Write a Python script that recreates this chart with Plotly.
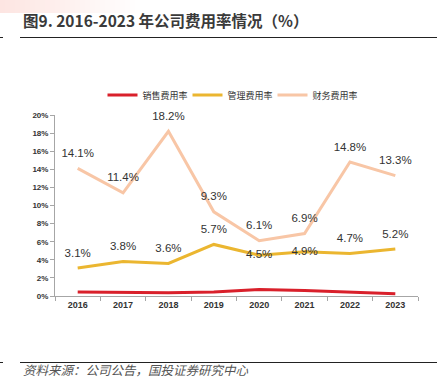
import plotly.graph_objects as go

years = ["2016", "2017", "2018", "2019", "2020", "2021", "2022", "2023"]
sales_rate = [0.44, 0.42, 0.35, 0.45, 0.72, 0.62, 0.45, 0.25]
admin_rate = [3.1, 3.8, 3.6, 5.7, 4.5, 4.9, 4.7, 5.2]
finance_rate = [14.1, 11.4, 18.2, 9.3, 6.1, 6.9, 14.8, 13.3]
admin_label_pos = ["top center", "top center", "top center", "top center",
                   "middle center", "middle center", "top center", "top center"]
y_ticks = [0, 2, 4, 6, 8, 10, 12, 14, 16, 18, 20]
y_tick_text = [f"{v}%" for v in y_ticks]

W, H = 447, 389
L, R, T, B = 55, 29, 115, 93
PW, PH = W - L - R, H - T - B

def px(x):
    return (x - L) / PW

def py(y):
    return (H - B - y) / PH

label_font = dict(family="Liberation Sans, Arial", size=11.5, color="#333333")
ghost_marker = dict(size=12, color="rgba(0,0,0,0)")

fig = go.Figure()
fig.add_trace(go.Scatter(
    x=years, y=sales_rate, mode="lines", name="销售费用率",
    line=dict(color="#D9202B", width=3)))
fig.add_trace(go.Scatter(
    x=years, y=admin_rate, mode="lines+markers+text", name="管理费用率",
    line=dict(color="#EBB630", width=3), cliponaxis=False, marker=ghost_marker,
    text=[f"{v:.1f}%" for v in admin_rate], textposition=admin_label_pos,
    textfont=label_font))
fig.add_trace(go.Scatter(
    x=years, y=finance_rate, mode="lines+markers+text", name="财务费用率",
    line=dict(color="#F8C6A6", width=3), cliponaxis=False, marker=ghost_marker,
    text=[f"{v:.1f}%" for v in finance_rate], textposition="top center",
    textfont=label_font))

shapes = []
# top-left gradient
n = 28
for i in range(n):
    x0 = i * 5
    op = 0.55 * (1 - i / n)
    shapes.append(dict(type="rect", xref="paper", yref="paper",
                       x0=px(x0), x1=px(x0 + 5), y0=py(13), y1=py(0),
                       fillcolor="#FBD0CA", opacity=op, line=dict(width=0), layer="below"))
# title underline and source line
for yy in (37.5, 362.5):
    shapes.append(dict(type="line", xref="paper", yref="paper",
                       x0=px(20), x1=px(437), y0=py(yy), y1=py(yy),
                       line=dict(color="#222222", width=1.2)))
    shapes.append(dict(type="line", xref="paper", yref="paper",
                       x0=px(0), x1=px(3), y0=py(yy), y1=py(yy),
                       line=dict(color="#222222", width=1)))

annotations = [
    dict(text="<b>图9. 2016-2023 年公司费用率情况（%）</b>", xref="paper", yref="paper",
         x=px(21), y=py(20), xanchor="left", yanchor="middle", showarrow=False,
         font=dict(family="Noto Sans CJK SC", size=15.5, color="#3a3a3a")),
    dict(text="<i>资料来源：公司公告，国投证券研究中心</i>", xref="paper", yref="paper",
         x=px(21), y=py(369), xanchor="left", yanchor="middle", showarrow=False,
         font=dict(family="Noto Sans CJK SC", size=12.5, color="#555555")),
]

fig.update_layout(
    width=W, height=H,
    margin=dict(l=L, r=R, t=T, b=B, autoexpand=False),
    paper_bgcolor="white", plot_bgcolor="white",
    showlegend=True,
    legend=dict(orientation="h", xref="container", yref="container",
                x=230 / W, y=1 - 95 / H, xanchor="center", yanchor="middle",
                font=dict(family="Noto Sans CJK SC", size=9, color="#333333"),
                itemwidth=30, entrywidth=40, entrywidthmode="pixels",
                bgcolor="rgba(0,0,0,0)"),
    xaxis=dict(type="category", showgrid=False, showline=True, linecolor="#A6A6A6",
               linewidth=1, ticks="outside", ticklen=4, tickcolor="#A6A6A6",
               tickson="boundaries", range=[-0.5, 7.5], automargin=False,
               tickfont=dict(family="Liberation Sans, Arial", size=9, color="#333333"),
               tickprefix="<b>", ticksuffix="</b>"),
    yaxis=dict(range=[0, 20], tickvals=y_ticks, ticktext=[f"<b>{t}</b>" for t in y_tick_text],
               showgrid=False, showline=True, linecolor="#A6A6A6", linewidth=1,
               ticks="outside", ticklen=4, tickcolor="#A6A6A6", zeroline=False,
               automargin=False,
               tickfont=dict(family="Liberation Sans Narrow, Arial", size=8, color="#333333")),
    shapes=shapes, annotations=annotations,
)

fig.write_html("out.html", config={"displayModeBar": False},
               post_script="document.body.style.margin='0';document.body.style.overflow='hidden';")
